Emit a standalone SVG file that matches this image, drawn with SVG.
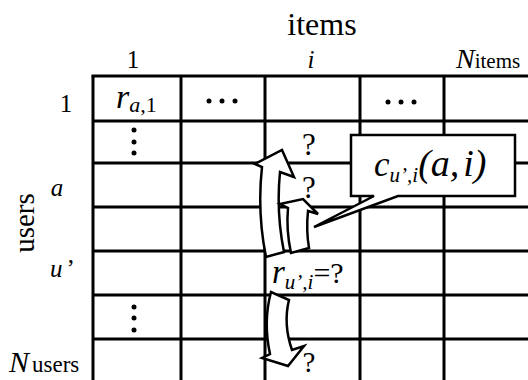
<svg xmlns="http://www.w3.org/2000/svg" width="528" height="380" viewBox="0 0 528 380">
<style>
text{font-family:"Liberation Serif","DejaVu Serif","Times New Roman",serif;fill:#000}
.it{font-style:italic}
.grid line{stroke:#000;stroke-width:3}
.shape{fill:#fff;stroke:#000;stroke-width:2.5;stroke-linejoin:miter}
.dot{fill:#000}
</style>
<rect width="528" height="380" fill="#fff"/>
<g id="axis-labels" font-family="Liberation Serif, serif">
<text x="322" y="35" font-size="32" text-anchor="middle">items</text>
<text transform="translate(34,223) rotate(-90)" font-size="29" text-anchor="middle">users</text>
</g>
<g id="col-headers" font-size="25" font-family="Liberation Serif, serif">
<text x="133" y="68" text-anchor="middle">1</text>
<text x="311" y="68" text-anchor="middle" class="it">i</text>
<text x="456" y="68" font-size="28" class="it">N<tspan font-size="21" font-style="normal">items</tspan></text>
</g>
<g id="row-headers" font-size="25" font-family="Liberation Serif, serif">
<text x="66" y="112" text-anchor="middle">1</text>
<text x="57" y="196" text-anchor="middle" class="it">a</text>
<text x="50" y="277" class="it">u<tspan dx="4" font-style="normal">’</tspan></text>
<text x="9" y="372" font-size="30" class="it">N<tspan dx="3" font-size="23" font-style="normal">users</tspan></text>
</g>
<g id="grid" class="grid">
<line x1="93" y1="76" x2="93" y2="380"/>
<line x1="181" y1="76" x2="181" y2="380"/>
<line x1="265" y1="76" x2="265" y2="380"/>
<line x1="360" y1="76" x2="360" y2="380"/>
<line x1="444" y1="76" x2="444" y2="380"/>
<line x1="91.5" y1="76" x2="528" y2="76"/>
<line x1="93" y1="121" x2="528" y2="121"/>
<line x1="93" y1="163" x2="528" y2="163"/>
<line x1="93" y1="207" x2="528" y2="207"/>
<line x1="93" y1="251" x2="528" y2="251"/>
<line x1="93" y1="295" x2="528" y2="295"/>
<line x1="93" y1="339" x2="528" y2="339"/>
</g>
<g id="cells" font-family="Liberation Serif, serif">
<text x="116" y="108" font-size="34" class="it">r<tspan font-size="22" dy="4">a,</tspan><tspan font-size="22" font-style="normal">1</tspan></text>
<g id="hdots1"><circle class="dot" cx="209" cy="101" r="2.5"/><circle class="dot" cx="222" cy="101" r="2.5"/><circle class="dot" cx="235" cy="101" r="2.5"/></g>
<g id="hdots2"><circle class="dot" cx="388" cy="102" r="2.5"/><circle class="dot" cx="401" cy="102" r="2.5"/><circle class="dot" cx="414" cy="102" r="2.5"/></g>
<g id="vdots1"><circle class="dot" cx="134" cy="130" r="2.5"/><circle class="dot" cx="134" cy="142" r="2.5"/><circle class="dot" cx="134" cy="153" r="2.5"/></g>
<g id="vdots2"><circle class="dot" cx="134" cy="307" r="2.5"/><circle class="dot" cx="134" cy="318" r="2.5"/><circle class="dot" cx="134" cy="330" r="2.5"/></g>
<text x="309" y="155" font-size="31" text-anchor="middle">?</text>
<text x="309" y="198" font-size="31" text-anchor="middle">?</text>
<text x="309" y="372" font-size="29" text-anchor="middle">?</text>
</g>
<g id="connectors">
<path id="arrow-big" class="shape" d="M266,257 Q257,212 262,167 L255,164 L282,150 L294,177 L280,172 Q276,212 284,252 Z"/>
<path id="arrow-small" class="shape" d="M291,253 Q286,230 288,208 L280,204 L303,199 L318,214 L308,211 Q306,230 309,248 Z"/>
<path id="arrow-down" class="shape" d="M271,292 Q263,322 270,354 L262,358 L288,366 L304,346 L292,350 Q283,324 289,300 Z"/>
</g>
<g id="target" font-family="Liberation Serif, serif">
<text x="272" y="283" font-size="33" class="it">r<tspan font-size="21" dy="6">u’,i</tspan><tspan font-size="30" font-style="normal" dy="-6">=?</tspan></text>
</g>
<g id="callout">
<path class="shape" stroke-width="3" d="M351,135 L515,135 L515,196 L398,196 L314,227 L374,196 L351,196 Z"/>
<text x="374" y="176" font-size="35" class="it" font-family="Liberation Serif, serif">c<tspan font-size="21" dy="6">u’,i</tspan><tspan dy="-6" font-size="38">(a,<tspan dx="4">i</tspan>)</tspan></text>
</g>
</svg>
